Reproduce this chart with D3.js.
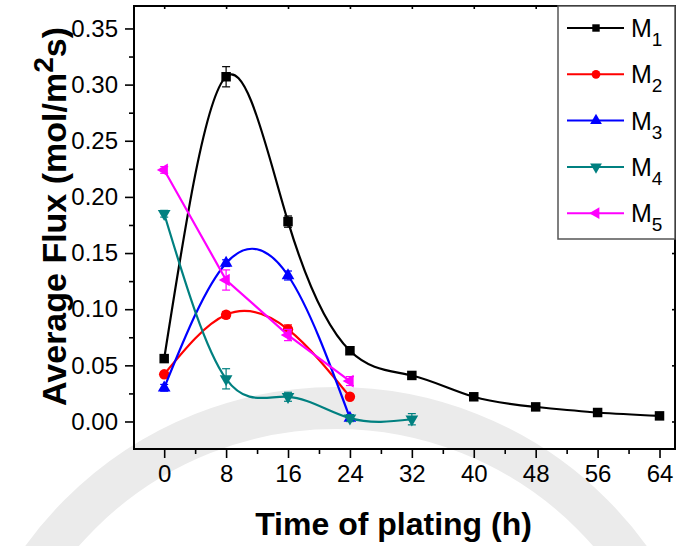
<!DOCTYPE html>
<html>
<head>
<meta charset="utf-8">
<script src="https://cdn.jsdelivr.net/npm/d3@7"></script>
<style>
    body { margin: 0; background: #fff; }
    svg text { font-family: Arial, "Liberation Sans", sans-serif; }
</style>
</head>
<body>
<div id="chart"></div>
<script>

// time of plating (h)
const times = [0, 8, 16, 24, 32, 40, 48, 56, 64];

// average flux (mol/m2s) per membrane
const m1Flux = [0.056, 0.307, 0.178, 0.063, 0.041, 0.022, 0.013, 0.008, 0.005];
const m1Err  = [0.002, 0.009, 0.005, 0.002, 0.002, 0.001, 0.001, 0.001, 0.001];
const m2Flux = [0.042, 0.095, 0.082, 0.022];
const m2Err  = [0.002, 0.003, 0.004, 0.002];
const m3Flux = [0.030, 0.141, 0.130, 0.003];
const m3Err  = [0.003, 0.003, 0.004, 0.003];
const m4Flux = [0.185, 0.038, 0.022, 0.003, 0.002];
const m4Err  = [0.003, 0.009, 0.004, 0.003, 0.005];
const m5Flux = [0.224, 0.126, 0.077, 0.036];
const m5Err  = [0.003, 0.009, 0.005, 0.004];

const seriesNames = ["1", "2", "3", "4", "5"];
const seriesColors = ["#000000", "#ff0000", "#0000ff", "#008080", "#ff00ff"];
const seriesMarkers = ["square", "circle", "up", "down", "left"];
// M5 is joined with straight segments in the figure, the others with a spline
const seriesSmooth = [true, true, true, true, false];

const xTicks = [0, 8, 16, 24, 32, 40, 48, 56, 64];
const yTicks = [0.00, 0.05, 0.10, 0.15, 0.20, 0.25, 0.30, 0.35];

class FluxVis {

    constructor(_parentElement) {
        this.parentElement = _parentElement;
        this.initVis();
    }

    initVis() {
        let vis = this;

        vis.margin = { top: 6, right: 3, bottom: 97, left: 134 };
        vis.width = 678 - vis.margin.left - vis.margin.right;
        vis.height = 546 - vis.margin.top - vis.margin.bottom;

        vis.root = d3.select("#" + vis.parentElement).append("svg")
            .attr("width", 678)
            .attr("height", 546);

        // faint scanned watermark ring behind the chart
        vis.root.append("circle")
            .attr("cx", 336).attr("cy", 770).attr("r", 362)
            .attr("fill", "none")
            .attr("stroke", "#ebebeb")
            .attr("stroke-width", 42);

        vis.svg = vis.root.append("g")
            .attr("transform", "translate(" + vis.margin.left + "," + vis.margin.top + ")");

        vis.x = d3.scaleLinear().domain([-3.9, 66]).range([0, vis.width]);
        vis.y = d3.scaleLinear().domain([-0.0245, 0.37]).range([vis.height, 0]);

        // combine the arrays into series
        let fluxes = [m1Flux, m2Flux, m3Flux, m4Flux, m5Flux];
        let errs = [m1Err, m2Err, m3Err, m4Err, m5Err];
        vis.series = seriesNames.map((n, i) => ({
            name: n,
            color: seriesColors[i],
            marker: seriesMarkers[i],
            smooth: seriesSmooth[i],
            values: fluxes[i].map((v, j) => ({ t: times[j], v: v, e: errs[i][j] }))
        }));

        vis.drawAxes();
        vis.drawSeries();
        vis.drawLegend();
    }

    drawAxes() {
        let vis = this;

        // minor ticks
        vis.svg.append("g")
            .attr("class", "x-minor")
            .attr("transform", "translate(0," + vis.height + ")")
            .call(d3.axisBottom(vis.x).tickValues(d3.range(4, 64, 8)).tickSize(5).tickSizeOuter(0).tickFormat(""));
        vis.svg.append("g")
            .attr("class", "y-minor")
            .call(d3.axisLeft(vis.y).tickValues(d3.range(0.025, 0.36, 0.05)).tickSize(5).tickSizeOuter(0).tickFormat(""));

        vis.svg.append("g")
            .attr("class", "x-axis")
            .attr("transform", "translate(0," + vis.height + ")")
            .call(d3.axisBottom(vis.x).tickValues(xTicks).tickSize(9).tickSizeOuter(0).tickPadding(7));

        vis.svg.append("g")
            .attr("class", "y-axis")
            .call(d3.axisLeft(vis.y).tickValues(yTicks).tickSize(9).tickSizeOuter(0).tickPadding(7)
                .tickFormat(d3.format(".2f")));

        // small inward ticks on top and right
        vis.svg.append("g")
            .call(d3.axisTop(vis.x).tickValues(xTicks).tickSize(-3).tickSizeOuter(0).tickFormat(""));
        vis.svg.append("g")
            .attr("transform", "translate(" + vis.width + ",0)")
            .call(d3.axisRight(vis.y).tickValues(yTicks).tickSize(-3).tickSizeOuter(0).tickFormat(""));

        vis.svg.selectAll(".domain").remove();
        vis.svg.selectAll(".tick line").attr("stroke", "#000").attr("stroke-width", 1.6);
        vis.svg.selectAll(".x-axis text, .y-axis text")
            .attr("fill", "#000")
            .style("font-size", "24px");

        // frame
        vis.svg.append("rect")
            .attr("width", vis.width)
            .attr("height", vis.height)
            .attr("fill", "none")
            .attr("stroke", "#000")
            .attr("stroke-width", 2);

        // axis titles
        vis.svg.append("text")
            .attr("x", vis.width / 2 - 11)
            .attr("y", vis.height + 86)
            .attr("text-anchor", "middle")
            .style("font-size", "32px")
            .style("font-weight", "bold")
            .text("Time of plating (h)");

        let yt = vis.svg.append("text")
            .attr("transform", "translate(-68," + (vis.height / 2 - 11) + ") rotate(-90)")
            .attr("text-anchor", "middle")
            .style("font-size", "34px")
            .style("font-weight", "bold");
        yt.append("tspan").text("Average Flux (mol/m");
        yt.append("tspan").attr("dy", -13).style("font-size", "28px").text("2");
        yt.append("tspan").attr("dy", 13).text("s)");
    }

    symbol(marker, size) {
        let type = marker === "square" ? d3.symbolSquare
            : marker === "circle" ? d3.symbolCircle : d3.symbolTriangle;
        return d3.symbol().type(type).size(size)();
    }

    rotation(marker) {
        if (marker === "down") return 180;
        if (marker === "left") return -90;
        return 0;
    }

    markerSize(marker) {
        if (marker === "square") return 90;
        if (marker === "circle") return 85;
        return 70;
    }

    drawSeries() {
        let vis = this;

        let smoothLine = d3.line()
            .x(d => vis.x(d.t))
            .y(d => vis.y(d.v))
            .curve(d3.curveNatural);
        let straightLine = d3.line()
            .x(d => vis.x(d.t))
            .y(d => vis.y(d.v));

        let groups = vis.svg.selectAll(".series")
            .data(vis.series)
            .enter()
            .append("g").attr("class", "series");

        groups.append("path")
            .attr("d", d => d.smooth ? smoothLine(d.values) : straightLine(d.values))
            .attr("fill", "none")
            .attr("stroke", d => d.color)
            .attr("stroke-width", 2.2);

        // error bars
        groups.each(function(s) {
            let g = d3.select(this);
            s.values.forEach(p => {
                let x = vis.x(p.t), y0 = vis.y(p.v - p.e), y1 = vis.y(p.v + p.e);
                g.append("line").attr("x1", x).attr("x2", x).attr("y1", y0).attr("y2", y1)
                    .attr("stroke", s.color).attr("stroke-width", 1.2);
                [y0, y1].forEach(y => {
                    g.append("line").attr("x1", x - 4).attr("x2", x + 4).attr("y1", y).attr("y2", y)
                        .attr("stroke", s.color).attr("stroke-width", 1.2);
                });
            });
        });

        groups.selectAll(".pt")
            .data(s => s.values.map(v => Object.assign({ s: s }, v)))
            .enter()
            .append("path").attr("class", "pt")
            .attr("d", d => vis.symbol(d.s.marker, vis.markerSize(d.s.marker)))
            .attr("transform", d => "translate(" + vis.x(d.t) + "," + vis.y(d.v) + ") rotate(" + vis.rotation(d.s.marker) + ")")
            .attr("fill", d => d.s.color);
    }

    drawLegend() {
        let vis = this;

        let lg = vis.svg.append("g")
            .attr("transform", "translate(" + (558 - vis.margin.left) + ",0)");

        lg.append("rect")
            .attr("width", vis.width - (558 - vis.margin.left))
            .attr("height", 233)
            .attr("fill", "#fff")
            .attr("stroke", "#555")
            .attr("stroke-width", 1.5);

        let items = lg.selectAll(".legend-item")
            .data(vis.series)
            .enter()
            .append("g").attr("class", "legend-item")
            .attr("transform", (d, i) => "translate(0," + (22 + i * 46.3) + ")");

        items.append("line")
            .attr("x1", 9).attr("x2", 66)
            .attr("stroke", d => d.color)
            .attr("stroke-width", 2);

        items.append("path")
            .attr("d", d => vis.symbol(d.marker, d.marker === "square" ? 55 : 60))
            .attr("transform", d => "translate(38,0) rotate(" + vis.rotation(d.marker) + ")")
            .attr("fill", d => d.color);

        let t = items.append("text")
            .attr("x", 73)
            .attr("y", 9)
            .style("font-size", "25px");
        t.append("tspan").text("M");
        t.append("tspan").attr("dy", 9).style("font-size", "19px").text(d => d.name);
    }
}

new FluxVis("chart");

</script>
</body>
</html>
